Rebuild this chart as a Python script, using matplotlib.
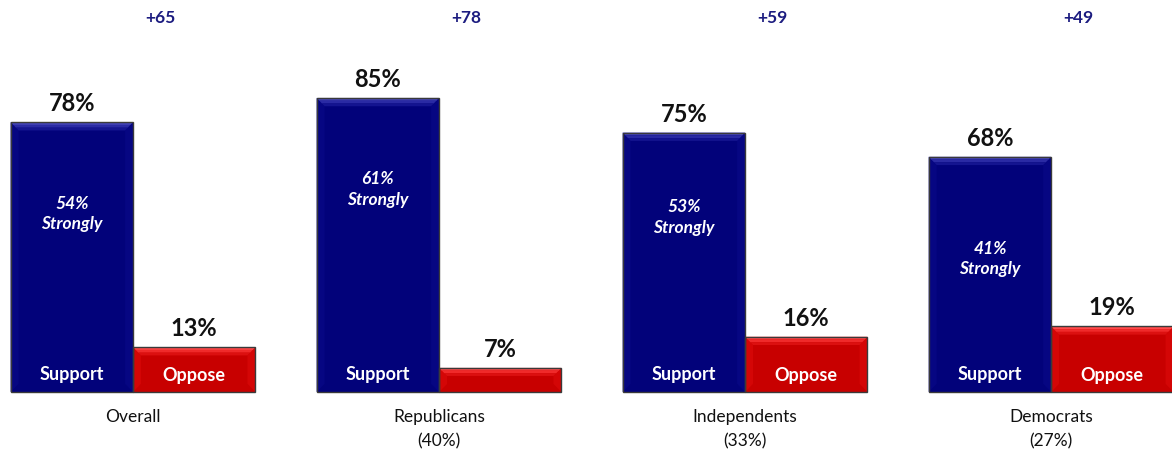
import numpy as np
import matplotlib
matplotlib.use('Agg')
import matplotlib.pyplot as plt
from matplotlib.patches import Polygon

# survey results
groups = ['Overall', 'Republicans\n(40%)', 'Independents\n(33%)', 'Democrats\n(27%)']
support = [78, 85, 75, 68]
oppose = [13, 7, 16, 19]
strongly = [54, 61, 53, 41]

plt.rcParams['font.family'] = ['Lato', 'DejaVu Sans']

blue = '#02027a'
blue_hi = ['#4444b8', '#2a2aa4', '#141490']
blue_side = '#060682'
red = '#c80000'
red_hi = ['#ff4a4a', '#f02a2a', '#dc1010']
red_side = '#d40606'
edge = '#3a3a3a'

fig = plt.figure(figsize=(11.72, 4.53), dpi=100)
ax = fig.add_axes([0, 0, 1, 1])
ax.set_xlim(-0.4346, 3.395)
ax.set_ylim(-17.6, 113.3)
ax.axis('off')

x = np.arange(len(groups))
w = 0.4
bx = 0.026   # bevel width (x units)
by = 2.4     # bevel height (y units)


def bevel_bar(xc, h, base, hi, side):
    ax.bar(xc, h, width=w, color=base, edgecolor='none', zorder=2)
    l, r = xc - w / 2, xc + w / 2
    bb = min(by, h / 3)
    # side bevels (subtle)
    ax.add_patch(Polygon([(l, h), (l + bx, h - bb), (l + bx, bb), (l, 0)],
                         closed=True, facecolor=side, edgecolor='none', zorder=3))
    ax.add_patch(Polygon([(r, h), (r - bx, h - bb), (r - bx, bb), (r, 0)],
                         closed=True, facecolor=side, edgecolor='none', zorder=3))
    # top bevel, shaded in bands
    n = len(hi)
    for k, c in enumerate(hi):
        t0 = h - bb * k / n
        t1 = h - bb * (k + 1) / n
        f0 = bx * k / n
        f1 = bx * (k + 1) / n
        ax.add_patch(Polygon([(l + f0, t0), (r - f0, t0), (r - f1, t1), (l + f1, t1)],
                             closed=True, facecolor=c, edgecolor='none', zorder=3))
    ax.bar(xc, h, width=w, color='none', edgecolor=edge, linewidth=1.0, zorder=4)


for i in range(len(groups)):
    xs = x[i] - w / 2
    xo = x[i] + w / 2
    bevel_bar(xs, support[i], blue, blue_hi, blue_side)
    bevel_bar(xo, oppose[i], red, red_hi, red_side)

    ax.text(xs, support[i] + 2.0, f'{support[i]}%', ha='center', va='bottom',
            fontsize=17, fontweight='bold', color='#111111', zorder=5)
    ax.text(xo, oppose[i] + 2.0, f'{oppose[i]}%', ha='center', va='bottom',
            fontsize=17, fontweight='bold', color='#111111', zorder=5)

    ax.text(xs, 5, 'Support', ha='center', va='center', fontsize=13,
            fontweight='bold', color='white', zorder=5)
    if oppose[i] >= 10:
        ax.text(xo, 4.7, 'Oppose', ha='center', va='center', fontsize=13,
                fontweight='bold', color='white', zorder=5)

    ax.text(xs, strongly[i] - 2.5, f'{strongly[i]}%\nStrongly', ha='center', va='center',
            fontsize=12.5, fontweight='bold', fontstyle='italic', color='white',
            linespacing=1.35, zorder=5)

    ax.text(x[i], -4.8, groups[i], ha='center', va='top', fontsize=12.5,
            color='#111111', linespacing=1.65)

    ax.text(x[i] + 0.09, 108, f'+{support[i] - oppose[i]}', ha='center', va='center',
            fontsize=12.5, fontweight='bold', color='#1c1c80')

fig.savefig('out.png', dpi=100)
